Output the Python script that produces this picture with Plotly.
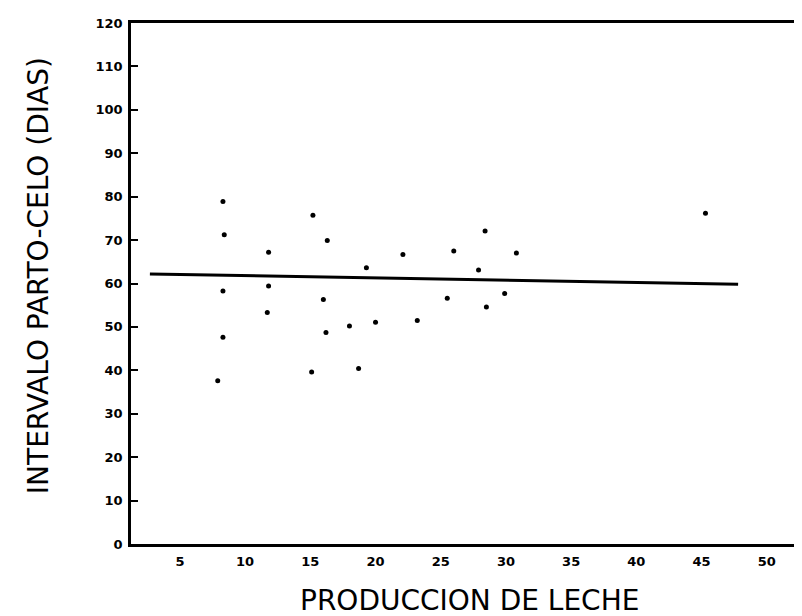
import plotly.graph_objects as go

# Scatter data: milk production (x) vs calving-to-oestrus interval in days (y)
produccion = [8.3, 8.4, 11.8, 15.2, 16.3, 19.3, 8.3, 11.8, 16.0, 11.7, 18.0, 20.0,
              16.2, 8.3, 15.1, 18.7, 7.9, 22.1, 28.4, 26.0, 30.8, 27.9, 29.9, 25.5,
              28.5, 23.2, 45.3]
intervalo = [78.9, 71.2, 67.2, 75.7, 69.9, 63.6, 58.3, 59.4, 56.3, 53.3, 50.2, 51.1,
             48.7, 47.6, 39.6, 40.4, 37.6, 66.7, 72.1, 67.5, 67.0, 63.1, 57.7, 56.6,
             54.6, 51.5, 76.2]

# Regression line end points
recta_x = [2.7, 47.8]
recta_y = [62.2, 59.8]

x_ticks = [5, 10, 15, 20, 25, 30, 35, 40, 45, 50]
y_ticks = [0, 10, 20, 30, 40, 50, 60, 70, 80, 90, 100, 110, 120]

x_title = "PRODUCCION DE LECHE"
y_title = "INTERVALO PARTO-CELO (DIAS)"

tick_font = dict(size=13, family="DejaVu Sans", color="black", weight="bold")
title_font = dict(size=28, family="DejaVu Sans", color="black")

fig = go.Figure()
fig.add_trace(go.Scatter(x=recta_x, y=recta_y, mode="lines",
                         line=dict(color="black", width=3), showlegend=False))
fig.add_trace(go.Scatter(x=produccion, y=intervalo, mode="markers",
                         marker=dict(color="black", size=5), showlegend=False))

# The page body adds an 8px offset, so the figure is sized/margined to compensate
fig.update_layout(
    width=794, height=608,
    margin=dict(l=123, r=0, t=15, b=72, autoexpand=False),
    plot_bgcolor="white", paper_bgcolor="white",
    xaxis=dict(range=[1.25, 52.7], tickvals=x_ticks, ticks="", showgrid=False,
               zeroline=False, showline=True, linecolor="black", linewidth=2.5,
               mirror=True, tickfont=tick_font, automargin=False, ticklabelstandoff=4),
    yaxis=dict(range=[0, 120], tickvals=y_ticks, ticks="inside", ticklen=7, tickwidth=2,
               tickcolor="black", showgrid=False, zeroline=False, showline=True,
               linecolor="black", linewidth=2.5, tickfont=tick_font,
               automargin=False, ticklabelstandoff=3),
    annotations=[
        dict(text=x_title, xref="paper", yref="paper", x=0.504, y=-0.1075,
             xanchor="center", yanchor="middle", showarrow=False, font=title_font),
        dict(text=y_title, xref="paper", yref="paper", x=-0.1386, y=0.516,
             xanchor="center", yanchor="middle", textangle=-90, showarrow=False,
             font=title_font),
    ],
)

fig.write_html("out.html")
